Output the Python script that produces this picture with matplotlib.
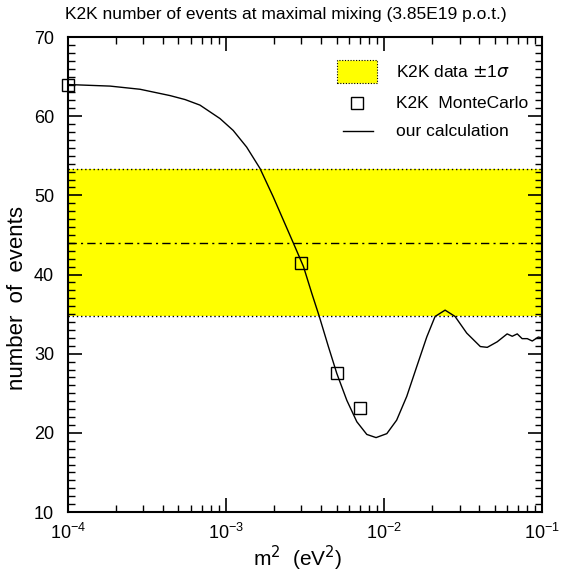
import numpy as np
import matplotlib
matplotlib.use('Agg')
import matplotlib.pyplot as plt
from matplotlib.patches import Rectangle
from matplotlib.ticker import LogLocator, MultipleLocator, NullFormatter

plt.rcParams['font.family'] = ['Liberation Sans', 'DejaVu Sans']

# our calculation
calc_dm2 = [1.0e-4, 1.85e-4, 2.86e-4, 4.43e-4, 5.51e-4, 6.84e-4, 9.16e-4, 1.11e-3,
            1.35e-3, 1.64e-3, 1.99e-3, 2.36e-3, 2.73e-3, 3.09e-3, 3.49e-3, 3.89e-3,
            4.44e-3, 5.02e-3, 5.81e-3, 6.72e-3, 7.77e-3, 8.89e-3, 1.04e-2, 1.20e-2,
            1.39e-2, 1.61e-2, 1.86e-2, 2.10e-2, 2.43e-2, 2.81e-2, 3.33e-2, 4.06e-2,
            4.49e-2, 5.19e-2, 6.00e-2, 6.46e-2, 6.95e-2, 7.46e-2, 8.04e-2, 8.65e-2,
            9.44e-2, 1.0e-1]
calc_events = [64.0, 63.8, 63.4, 62.6, 62.1, 61.4, 59.7, 58.2,
               56.1, 53.4, 49.8, 46.4, 43.5, 41.0, 37.6, 34.7,
               30.9, 27.5, 24.1, 21.4, 19.8, 19.4, 19.9, 21.6,
               24.6, 28.4, 32.1, 34.7, 35.5, 34.7, 32.6, 30.9,
               30.8, 31.5, 32.5, 32.2, 32.5, 31.9, 31.9, 31.6,
               32.1, 32.0]

# K2K MonteCarlo points
mc_dm2 = [1e-4, 3e-3, 5e-3, 7e-3]
mc_events = [64.0, 41.5, 27.5, 23.1]

# K2K data +- 1 sigma
data_central = 44.0
data_low = 34.8
data_high = 53.3

fig = plt.figure(figsize=(5.66, 5.74), dpi=100)
ax = fig.add_axes([0.120, 0.108, 0.838, 0.8275])

ax.axhspan(data_low, data_high, facecolor='#ffff00', edgecolor='none', zorder=1)
ax.axhline(data_high, color='black', ls=(0, (1, 2)), lw=1, zorder=2)
ax.axhline(data_low, color='black', ls=(0, (1, 2)), lw=1, zorder=2)
ax.axhline(data_central, color='black', ls=(0, (6, 3, 1.5, 3)), lw=1, zorder=2)

ax.plot(calc_dm2, calc_events, color='black', lw=1, zorder=3)
ax.plot(mc_dm2, mc_events, ls='none', marker='s', ms=8, mfc='none',
        mec='black', mew=1, zorder=4, clip_on=False)

ax.set_xscale('log')
ax.set_xlim(1e-4, 1e-1)
ax.set_ylim(10, 70)
ax.yaxis.set_major_locator(MultipleLocator(10))
ax.yaxis.set_minor_locator(MultipleLocator(1))
ax.xaxis.set_major_locator(LogLocator(base=10))
ax.xaxis.set_minor_locator(LogLocator(base=10, subs=np.arange(2, 10)))
ax.xaxis.set_minor_formatter(NullFormatter())

ax.tick_params(which='both', direction='in', top=True, right=True, labelsize=13)
ax.tick_params(which='major', length=10, width=1.2)
ax.tick_params(which='minor', length=5, width=1)
ax.tick_params(axis='x', which='major', pad=8)
ax.tick_params(axis='y', which='major', pad=10)
for s in ax.spines.values():
    s.set_linewidth(1.5)

fig.text(0.505, 0.975, 'K2K number of events at maximal mixing (3.85E19 p.o.t.)',
         ha='center', va='center', fontsize=12.5)
ax.set_xlabel(r'm$^2$  (eV$^2$)', fontsize=15)
ax.xaxis.label.set_va('center')
ax.xaxis.set_label_coords(0.485, -0.098)
ax.set_ylabel('number  of  events', fontsize=16)
ax.yaxis.set_label_coords(-0.085, 0.45)

# legend drawn by hand in axes coordinates
tr = ax.transAxes
ax.add_patch(Rectangle((0.5675, 0.903), 0.0844, 0.0486, transform=tr,
                       facecolor='#ffff00', edgecolor='black', ls=(0, (1, 1.5)),
                       lw=0.8, zorder=5))
ax.plot([0.6097], [0.861], transform=tr, ls='none', marker='s', ms=8,
        mfc='none', mec='black', mew=1, zorder=5)
ax.plot([0.580, 0.643], [0.802, 0.802], transform=tr, color='black', lw=1, zorder=5)
for yy, txt in [(0.926, r'K2K data $\pm$1$\sigma$'), (0.861, 'K2K  MonteCarlo'),
                (0.802, 'our calculation')]:
    ax.text(0.6926, yy, txt, transform=tr, fontsize=12.5, va='center', ha='left')

fig.savefig('out.png', dpi=100)
